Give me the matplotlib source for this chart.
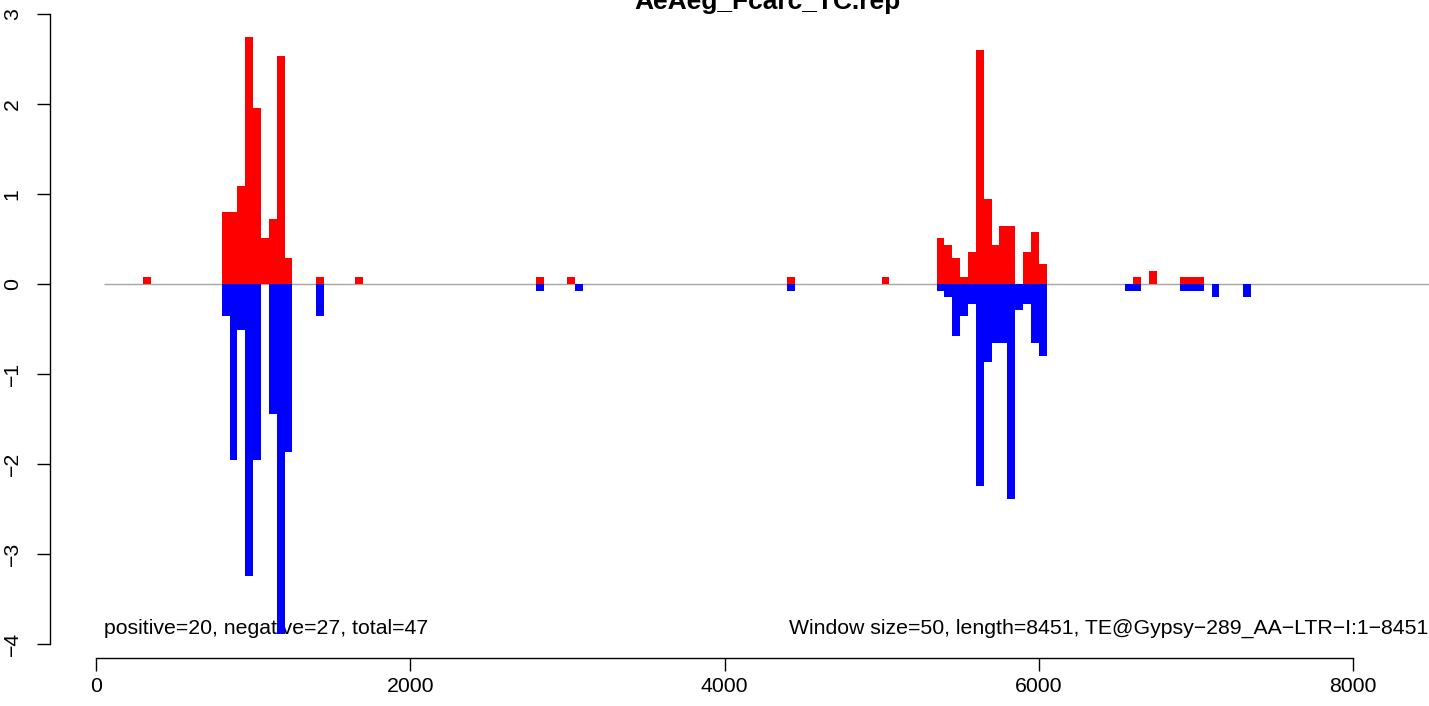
import numpy as np
import matplotlib
matplotlib.use("Agg")
import matplotlib.pyplot as plt

plt.rcParams['font.family'] = ['Liberation Sans', 'DejaVu Sans']

title = "AeAeg_Fcarc_TC.rep"
window = 50
length = 8451
te_name = "TE@Gypsy\u2212289_AA\u2212LTR\u2212I:1\u22128451"

# bin start positions and heights
pos_bins = [300, 800, 850, 900, 950, 1000, 1050, 1100, 1150, 1200, 1400, 1650,
            2800, 3000, 4400, 5000, 5350, 5400, 5450, 5500, 5550, 5600, 5650,
            5700, 5750, 5800, 5900, 5950, 6000, 6600, 6700, 6900, 6950, 7000]
pos_vals = [0.075, 0.80, 0.80, 1.09, 2.74, 1.96, 0.51, 0.72, 2.53, 0.29, 0.075, 0.075,
            0.075, 0.075, 0.075, 0.075, 0.51, 0.43, 0.29, 0.075, 0.36, 2.60, 0.94,
            0.43, 0.65, 0.65, 0.36, 0.58, 0.22, 0.075, 0.14, 0.075, 0.075, 0.075]

neg_bins = [800, 850, 900, 950, 1000, 1100, 1150, 1200, 1400, 2800, 3050, 4400,
            5350, 5400, 5450, 5500, 5550, 5600, 5650, 5700, 5750, 5800, 5850,
            5900, 5950, 6000, 6550, 6600, 6900, 6950, 7000, 7100, 7300]
neg_vals = [-0.36, -1.95, -0.51, -3.24, -1.95, -1.44, -3.89, -1.87, -0.36, -0.075, -0.075, -0.075,
            -0.075, -0.14, -0.58, -0.36, -0.22, -2.24, -0.87, -0.65, -0.65, -2.39, -0.29,
            -0.22, -0.65, -0.80, -0.075, -0.075, -0.075, -0.075, -0.075, -0.14, -0.14]

n_pos = 20
n_neg = 27

W, H = 1429, 706
fig = plt.figure(figsize=(W / 100, H / 100), dpi=100)
ax = fig.add_axes([0, 0, 1, 1])
ax.patch.set_alpha(0)

# pixel mapping used to line things up with the reference
px_per_x = (1353 - 96) / 8000
px_per_y = 90
ax.set_xlim(-96 / px_per_x, (W - 96) / px_per_x)
ax.set_ylim((284 - H) / px_per_y, 284 / px_per_y)

ax.hlines(0, window, length + window, color='#a6a6a6', lw=1.0, zorder=1)
ax.bar(pos_bins, pos_vals, width=window, align='edge', color='red', linewidth=0, zorder=2)
ax.bar(neg_bins, neg_vals, width=window, align='edge', color='blue', linewidth=0, zorder=2)

ymin = min(neg_vals)
ax.text(window, ymin, f"positive={n_pos}, negative={n_neg}, total={n_pos + n_neg}",
        ha='left', va='baseline', fontsize=15.3, zorder=1)
ax.text(8480, ymin, f"Window size={window}, length={length}, {te_name}",
        ha='right', va='baseline', fontsize=15.3, zorder=1)

fig.text(767 / W, 1 - 9 / H, title, ha='center', va='baseline',
         fontsize=19, fontweight='bold')

for s in ['top', 'right']:
    ax.spines[s].set_visible(False)
ax.spines['left'].set_position(('data', (50 - 96) / px_per_x))
ax.spines['left'].set_bounds(-4, 3)
ax.spines['bottom'].set_position(('data', (284 - 658) / px_per_y))
ax.spines['bottom'].set_bounds(0, 8000)
for s in ['left', 'bottom']:
    ax.spines[s].set_linewidth(1.0)

ax.set_xticks([0, 2000, 4000, 6000, 8000])
ax.set_yticks(np.arange(-4, 4))
ax.tick_params(axis='both', direction='out', length=9.4, width=1.0, labelsize=15.3)
ax.tick_params(axis='x', pad=4)
ax.tick_params(axis='y', pad=11, labelrotation=90)
for lab in ax.get_yticklabels():
    lab.set_va('center')

fig.savefig("out.png", dpi=100)
